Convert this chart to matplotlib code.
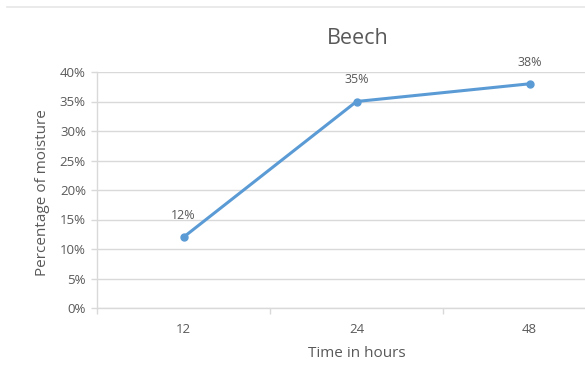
import matplotlib
matplotlib.use("Agg")
import matplotlib.pyplot as plt
from matplotlib.ticker import FuncFormatter
from matplotlib.lines import Line2D

# Moisture uptake of beech over time
hours = ["12", "24", "48"]
moisture = [12, 35, 38]
y_ticks = [0, 5, 10, 15, 20, 25, 30, 35, 40]

plt.rcParams["font.family"] = ["Open Sans", "DejaVu Sans"]
text_col = "#595959"
grid_col = "#D9D9D9"
line_col = "#5B9BD5"

W, H = 585, 365
fig = plt.figure(figsize=(W / 100, H / 100), dpi=100)

# plot area (the right part runs past the figure edge)
left, right, top, bottom = 97, 616, 72, 308
ax = fig.add_axes([left / W, 1 - bottom / H, (right - left) / W, (bottom - top) / H])

x = list(range(len(hours)))
ax.plot(x, moisture, color=line_col, lw=2.2, marker="o", ms=5, zorder=3)
for xi, v in zip(x, moisture):
    ax.annotate(f"{v}%", (xi, v), xytext=(0, 15.5), textcoords="offset points",
                ha="center", va="center", fontsize=9, color=text_col)

ax.set_xlim(-0.5, 2.5)
ax.set_ylim(0, 40)
ax.set_yticks(y_ticks)
ax.yaxis.set_major_formatter(FuncFormatter(lambda v, p: f"{v:.0f}%"))
ax.set_xticks(x)
ax.set_xticklabels(hours)
ax.set_xticks([-0.5, 0.5, 1.5], minor=True)

ax.grid(axis="y", color=grid_col, lw=1)
ax.set_axisbelow(True)
for s in ["top", "right"]:
    ax.spines[s].set_visible(False)
for s in ["bottom", "left"]:
    ax.spines[s].set_color(grid_col)
    ax.spines[s].set_linewidth(1)

ax.tick_params(axis="y", length=4, color=grid_col, width=1, pad=4,
               labelsize=9.5, labelcolor=text_col)
ax.tick_params(axis="x", which="major", length=0, pad=11, labelsize=9.5, labelcolor=text_col)
ax.tick_params(axis="x", which="minor", length=4, color=grid_col, width=1)

ax.set_xlabel("Time in hours", fontsize=11, color=text_col, labelpad=7)
ax.set_ylabel("Percentage of moisture", fontsize=11, color=text_col)
ax.yaxis.set_label_coords((50 - left) / (right - left), (bottom - 193) / (bottom - top))

fig.text(358 / W, 1 - 38 / H, "Beech", ha="center", va="center",
         fontsize=15.5, color=text_col)

# faint rule along the top edge
fig.add_artist(Line2D([7 / W, 1], [1 - 7 / H, 1 - 7 / H], color="#E6E6E6", lw=1.2))

fig.savefig("out.png", dpi=100)
